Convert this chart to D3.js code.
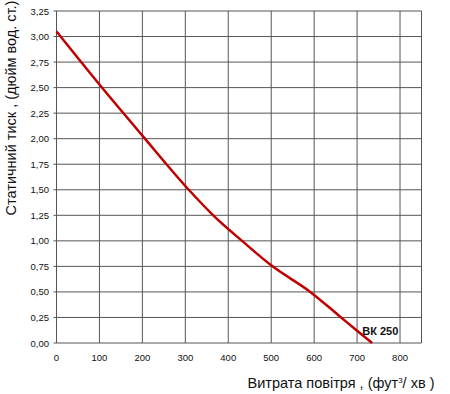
<!DOCTYPE html>
<html lang="uk">
<head>
<meta charset="UTF-8">
<title>ВК 250</title>
<style>
  body { margin: 0; background: #fff; }
  text { font-family: "Liberation Sans", Arial, sans-serif; fill: #111; }
</style>
</head>
<body>
<svg width="450" height="394"></svg>
<script src="https://d3js.org/d3.v7.min.js"></script>
<script>
// curve
const flow     = [0, 100, 200, 308, 365, 432, 500, 591, 660, 700, 735];
const pressure = [3.05, 2.53, 2.03, 1.50, 1.25, 1.00, 0.76, 0.50, 0.26, 0.12, 0.00];
const xTicks = [0, 100, 200, 300, 400, 500, 600, 700, 800];
const yTicks = [0, 0.25, 0.5, 0.75, 1, 1.25, 1.5, 1.75, 2, 2.25, 2.5, 2.75, 3, 3.25];
const seriesName = "ВК 250";

const svg = d3.select("svg");
const x = d3.scaleLinear().domain([0, 850]).range([56.5, 421.5]);
const y = d3.scaleLinear().domain([0, 3.25]).range([343, 11]);
const fmt = v => d3.format(".2f")(v).replace(".", ",");

// grid
svg.append("g").selectAll("line").data(xTicks.concat([850])).join("line")
  .attr("x1", d => x(d)).attr("x2", d => x(d))
  .attr("y1", y(3.25)).attr("y2", y(0))
  .style("stroke", "#555").style("stroke-width", 1);
svg.append("g").selectAll("line").data(yTicks).join("line")
  .attr("x1", x(0) - 3).attr("x2", x(850))
  .attr("y1", d => y(d)).attr("y2", d => y(d))
  .style("stroke", "#555").style("stroke-width", 1);

// tick labels
svg.append("g").selectAll("text").data(yTicks).join("text")
  .attr("x", 49).attr("y", d => y(d) + 3.5)
  .attr("text-anchor", "end").style("font-size", "9.5px")
  .text(fmt);
svg.append("g").selectAll("text").data(xTicks).join("text")
  .attr("x", d => x(d)).attr("y", 361)
  .attr("text-anchor", "middle").style("font-size", "9.5px")
  .text(d => d);

// curve
const pts = flow.map((f, i) => [f, pressure[i]]);
svg.append("path").datum(pts)
  .attr("d", d3.line().x(d => x(d[0])).y(d => y(d[1])).curve(d3.curveMonotoneX))
  .style("fill", "none").style("stroke", "#c00000").style("stroke-width", 2.5);

svg.append("text").attr("x", x(712)).attr("y", y(0.08))
  .style("font-size", "11px").style("font-weight", "bold")
  .text(seriesName);

// axis titles
svg.append("text").attr("transform", "translate(16,108) rotate(-90)")
  .attr("text-anchor", "middle").style("font-size", "14.5px")
  .text("Статичний тиск , (дюйм вод. ст.)");
const xt = svg.append("text").attr("x", 341).attr("y", 388)
  .attr("text-anchor", "middle").style("font-size", "14.5px");
xt.append("tspan").text("Витрата повітря , (фут");
xt.append("tspan").attr("dy", -5).style("font-size", "8px").text("3");
xt.append("tspan").attr("dy", 5).text("/  хв )");
</script>
</body>
</html>
